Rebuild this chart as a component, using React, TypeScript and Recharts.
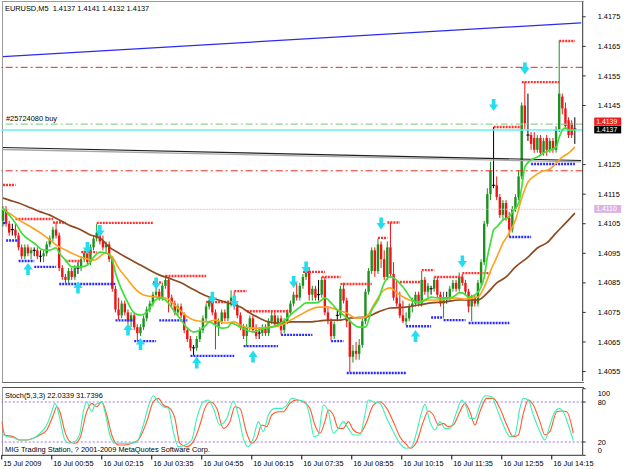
import React from 'react';
import { ComposedChart, Bar, Line, XAxis, YAxis, ReferenceLine, ReferenceDot } from 'recharts';

const FONT = '"Liberation Sans", Arial, sans-serif';
const FS = 7.4;

// ---------- candles (EURUSD M5) ----------
const opens = [
  1.4106,1.4110,1.4105,1.4103,1.4103,1.4101,1.4097,1.4094,1.4097,1.4095,
  1.4096,1.4096,1.4094,1.4094,1.4095,1.4098,1.4100,1.4103,1.4101,1.4090,
  1.4087,1.4086,1.4089,1.4087,1.4090,1.4090,1.4093,1.4095,1.4092,1.4097,
  1.4100,1.4102,1.4099,1.4097,1.4098,1.4093,1.4083,1.4076,1.4074,1.4078,
  1.4075,1.4072,1.4074,1.4070,1.4068,1.4070,1.4073,1.4076,1.4078,1.4081,
  1.4082,1.4080,1.4084,1.4086,1.4080,1.4078,1.4075,1.4077,1.4074,1.4069,
  1.4066,1.4063,1.4063,1.4066,1.4069,1.4073,1.4077,1.4079,1.4075,1.4070,
  1.4072,1.4075,1.4073,1.4078,1.4080,1.4077,1.4074,1.4070,1.4067,1.4070,
  1.4073,1.4069,1.4068,1.4068,1.4070,1.4068,1.4072,1.4074,1.4071,1.4073,
  1.4069,1.4072,1.4075,1.4078,1.4081,1.4080,1.4084,1.4087,1.4089,1.4081,
  1.4083,1.4081,1.4081,1.4086,1.4075,1.4072,1.4067,1.4074,1.4074,1.4083,
  1.4079,1.4072,1.4060,1.4062,1.4061,1.4064,1.4072,1.4082,1.4089,1.4096,
  1.4089,1.4098,1.4093,1.4087,1.4097,1.4088,1.4080,1.4078,1.4074,1.4072,
  1.4073,1.4077,1.4078,1.4081,1.4078,1.4086,1.4082,1.4083,1.4083,1.4086,
  1.4081,1.4078,1.4080,1.4080,1.4083,1.4085,1.4083,1.4087,1.4085,1.4082,
  1.4077,1.4080,1.4078,1.4085,1.4092,1.4105,1.4115,1.4118,1.4118,1.4114,
  1.4108,1.4112,1.4107,1.4103,1.4110,1.4114,1.4121,1.4145,1.4135,1.4135,
  1.4134,1.4130,1.4134,1.4129,1.4134,1.4130,1.4133,1.4130,1.4137,1.4148,
  1.4144,1.4140,1.4139,1.4137,
];
const highs = [
  1.4111,1.4111,1.4106,1.4105,1.4105,1.4102,1.4098,1.4098,1.4098,1.4097,
  1.4097,1.4097,1.4096,1.4096,1.4099,1.4101,1.4104,1.41055,1.4102,1.4091,
  1.4088,1.4090,1.4090,1.4091,1.4092,1.4094,1.4096,1.4096,1.4098,1.4101,
  1.4105,1.4103,1.4101,1.4099,1.4099,1.4094,1.4084,1.4080,1.4079,1.4079,
  1.4076,1.4075,1.4075,1.4071,1.4071,1.4074,1.4077,1.4079,1.4082,1.4085,
  1.4083,1.4085,1.40875,1.4087,1.4081,1.4079,1.4078,1.4078,1.4075,1.4070,
  1.4067,1.4064,1.4067,1.4070,1.4074,1.4078,1.4080,1.4080,1.4076,1.4073,
  1.4076,1.4076,1.4079,1.40825,1.4082,1.4078,1.4075,1.4071,1.4071,1.4074,
  1.4074,1.4071,1.4070,1.4071,1.4071,1.4073,1.40755,1.4075,1.4074,1.4074,
  1.4073,1.4076,1.4079,1.4082,1.4085,1.4085,1.4088,1.4090,1.4090,1.4084,
  1.4084,1.4086,1.4087,1.4087,1.4077,1.4073,1.4072,1.4076,1.4084,1.4085,
  1.4080,1.4073,1.4064,1.4065,1.4066,1.4073,1.4083,1.4090,1.4097,1.4097,
  1.4100,1.4099,1.4096,1.4099,1.41055,1.4092,1.4086,1.4082,1.4079,1.4075,
  1.4078,1.4080,1.4082,1.4082,1.4089,1.4087,1.4085,1.4084,1.4087,1.4087,
  1.4082,1.4082,1.4082,1.4084,1.4086,1.4086,1.40885,1.4088,1.4086,1.4083,
  1.4081,1.4081,1.4086,1.4093,1.4106,1.4117,1.4126,1.41377,1.4121,1.4115,
  1.4113,1.4113,1.4109,1.4111,1.4115,1.4123,1.4146,1.4153,1.4149,1.4136,
  1.4136,1.4135,1.4135,1.4134,1.4135,1.4134,1.4134,1.4138,1.4167,1.4149,
  1.4146,1.4141,1.4140,1.4141,
];
const lows = [
  1.4104,1.4104,1.4101,1.4101,1.4100,1.4096,1.4093,1.4093,1.4094,1.4093,
  1.4094,1.4093,1.4092,1.4092,1.4094,1.4097,1.4099,1.4100,1.4089,1.4086,
  1.4085,1.4085,1.4086,1.4086,1.4088,1.4089,1.4092,1.4091,1.4091,1.4096,
  1.4099,1.4098,1.4096,1.4095,1.4092,1.4082,1.4075,1.40725,1.4073,1.4074,
  1.4071,1.4070,1.4069,1.40655,1.4067,1.4069,1.4072,1.4075,1.4077,1.4080,
  1.4079,1.4079,1.4083,1.4075,1.4077,1.4074,1.4074,1.4073,1.4068,1.4065,
  1.4062,1.40605,1.4062,1.4065,1.4068,1.4072,1.4076,1.4074,1.40625,1.4067,
  1.4071,1.4072,1.4072,1.4077,1.4076,1.4073,1.4069,1.4066,1.40635,1.4069,
  1.4068,1.4066,1.4066,1.4067,1.4067,1.4067,1.4071,1.4070,1.4070,1.40675,
  1.4068,1.4071,1.4074,1.4077,1.4079,1.4079,1.4083,1.4086,1.4079,1.4079,
  1.4079,1.4079,1.4080,1.4074,1.4071,1.40655,1.4066,1.4072,1.4073,1.4078,
  1.4070,1.40548,1.4058,1.4059,1.4059,1.4063,1.4071,1.4081,1.4088,1.4087,
  1.4088,1.4090,1.4086,1.4086,1.4087,1.4079,1.4077,1.4073,1.40714,1.40705,
  1.4072,1.4075,1.4077,1.4077,1.4077,1.4081,1.4080,1.4081,1.4082,1.4080,
  1.4077,1.40735,1.4078,1.4079,1.4082,1.4082,1.4082,1.4084,1.4081,1.4075,
  1.4072,1.4077,1.4077,1.4084,1.4091,1.4104,1.4113,1.4117,1.4113,1.4107,
  1.4106,1.4106,1.41005,1.4102,1.4109,1.4113,1.4120,1.4137,1.4133,1.4130,
  1.4129,1.4129,1.4128,1.4128,1.4128,1.4129,1.4129,1.4129,1.4136,1.4142,
  1.4137,1.4134,1.4134,1.4132,
];
const closes = [
  1.4110,1.4105,1.4102,1.4103,1.4101,1.4097,1.4094,1.4097,1.4095,1.4096,
  1.4096,1.4094,1.4094,1.4095,1.4098,1.4100,1.4103,1.4101,1.4090,1.4087,
  1.4086,1.4089,1.4087,1.4090,1.4090,1.4093,1.4095,1.4092,1.4097,1.4100,
  1.4102,1.4099,1.4097,1.4098,1.4093,1.4083,1.4076,1.4074,1.4078,1.4075,
  1.4072,1.4074,1.4070,1.4068,1.4070,1.4073,1.4076,1.4078,1.4081,1.4082,
  1.4080,1.4084,1.4086,1.4080,1.4078,1.4075,1.4077,1.4074,1.4069,1.4066,
  1.4063,1.4063,1.4066,1.4069,1.4073,1.4077,1.4079,1.4075,1.4071,1.4072,
  1.4075,1.4073,1.4078,1.4080,1.4077,1.4074,1.4070,1.4067,1.4070,1.4073,
  1.4069,1.4067,1.4068,1.4070,1.4068,1.4072,1.4074,1.4071,1.4073,1.4069,
  1.4072,1.4075,1.4078,1.4081,1.4080,1.4084,1.4087,1.4089,1.4081,1.4083,
  1.4080,1.4081,1.4086,1.4075,1.4072,1.4067,1.4071,1.4074,1.4083,1.4079,
  1.4072,1.4060,1.4062,1.4061,1.4064,1.4072,1.4082,1.4089,1.4096,1.4089,
  1.4098,1.4093,1.4087,1.4097,1.4088,1.4080,1.4078,1.4074,1.4072,1.4073,
  1.4077,1.4078,1.4081,1.4078,1.4086,1.4082,1.4084,1.4083,1.4086,1.4081,
  1.4078,1.4080,1.4080,1.4083,1.4085,1.4083,1.4087,1.4085,1.4082,1.4077,
  1.4080,1.4078,1.4085,1.4092,1.4105,1.4115,1.4123,1.4118,1.4114,1.4108,
  1.4112,1.4107,1.4103,1.4110,1.4114,1.4121,1.4145,1.4139,1.4135,1.4132,
  1.4130,1.4134,1.4129,1.4133,1.4130,1.4133,1.4130,1.4137,1.4149,1.4144,
  1.4138,1.4135,1.4135,1.4137,
];
const SLOTS = 186; // bar slots across the plot (last two empty)

// ---------- moving averages [bar, price] ----------
const maFast = [
  [0,1.41103],[2,1.41079],[4,1.41052],[6,1.41018],[10,1.40984],[13,1.40961],[15,1.40961],[17,1.40968],
  [18,1.40951],[20,1.40927],[22,1.40904],[25,1.40904],[27,1.4091],[29,1.40937],[31,1.40954],[33,1.40951],
  [35,1.40927],[36,1.40883],[38,1.40826],[40,1.40782],[42,1.40748],[44,1.40741],[46,1.40751],[48,1.40782],
  [50,1.40799],[52,1.40792],[55,1.40751],[57,1.40724],[59,1.40697],[61,1.40684],[63,1.4069],[65,1.40707],
  [66,1.40718],[68,1.40707],[70,1.40697],[72,1.407],[73,1.40714],[76,1.407],[78,1.4069],[80,1.40684],
  [82,1.4069],[84,1.40697],[86,1.407],[89,1.40714],[91,1.40731],[93,1.40751],[95,1.40768],[97,1.40782],
  [99,1.40782],[101,1.40785],[103,1.40799],[105,1.40782],[107,1.40758],[109,1.40741],[110,1.40731],
  [114,1.407],[116,1.407],[118,1.40758],[120,1.40792],[122,1.4085],[124,1.4087],[128,1.40836],[131,1.40792],
  [133,1.40782],[135,1.40792],[137,1.40802],[139,1.40799],[141,1.40799],[144,1.40802],[146,1.40816],
  [147,1.40816],[149,1.40802],[151,1.40809],[153,1.40836],[154,1.4087],[155,1.40937],[156,1.40985],
  [157,1.41029],[158,1.41039],[160,1.41063],[162,1.41073],[163,1.4109],[165,1.4112],[166,1.41174],
  [167,1.41242],[169,1.41266],[171,1.41276],[173,1.41289],[175,1.41299],[177,1.41309],[178,1.41343],
  [179,1.41367],[180,1.41374],[181,1.41367],[183,1.41367],
];
const maMid = [
  [0,1.41096],[2,1.41086],[5,1.41063],[9,1.41039],[12,1.41019],[15,1.40995],[17,1.40978],[20,1.40961],
  [25,1.40937],[29,1.40927],[33,1.40951],[35,1.40937],[37,1.409],[40,1.4086],[42,1.40833],[45,1.40809],
  [49,1.40802],[52,1.40799],[55,1.40775],[58,1.40744],[61,1.40724],[65,1.40718],[68,1.40724],[71,1.40714],
  [74,1.40718],[76,1.40707],[79,1.40697],[82,1.40697],[85,1.407],[89,1.40707],[92,1.40724],[95,1.40741],
  [98,1.40758],[101,1.40768],[104,1.40768],[107,1.40758],[110,1.40748],[113,1.40731],[116,1.40734],
  [119,1.40782],[122,1.40826],[124,1.40833],[126,1.40816],[130,1.40792],[133,1.40785],[136,1.40792],
  [140,1.40792],[145,1.40799],[148,1.40795],[152,1.40802],[154,1.40836],[156,1.4089],[158,1.40937],
  [160,1.40985],[162,1.41019],[164,1.41063],[166,1.41137],[168,1.41191],[170,1.41211],[172,1.41225],
  [175,1.41235],[177,1.41255],[179,1.41276],[181,1.41289],[183,1.41309],
];
const maSlow = [
  [0,1.41137],[2,1.4113],[5,1.4112],[9,1.41103],[12,1.4109],[15,1.41079],[18,1.41063],[21,1.41046],
  [25,1.41029],[28,1.41012],[31,1.41002],[34,1.40971],[37,1.40951],[41,1.40927],[44,1.4091],[47,1.40893],
  [50,1.40877],[53,1.40866],[57,1.4085],[60,1.40833],[63,1.40816],[66,1.40802],[69,1.40792],[72,1.40782],
  [76,1.40768],[79,1.40748],[82,1.40731],[85,1.40718],[89,1.40714],[92,1.40718],[95,1.40718],[98,1.40718],
  [101,1.40721],[104,1.40724],[108,1.40724],[111,1.40731],[116,1.40734],[120,1.40751],[124,1.40765],
  [129,1.40768],[133,1.40775],[137,1.40782],[141,1.40785],[146,1.40792],[148,1.40792],[152,1.40792],
  [155,1.40816],[158,1.4085],[161,1.4087],[164,1.40904],[168,1.40937],[171,1.40968],[174,1.40985],
  [177,1.41019],[180,1.41052],[183,1.41086],
];

// ---------- trend lines [bar, price] ----------
const blueTrend = [[0,1.416154],[185,1.417297]];
const darkTrend = [[0,1.41308],[185,1.41264]];
const greyTrend = [[0,1.41301],[185,1.41259]];

// ---------- horizontal levels ----------
const redLevels = [1.41579, 1.41229];
const tpLevel = 1.41387;
const orderLevel = 1.41367;
const pinkLevel = 1.41099;

// ---------- fractal resistance / support segments [fromBar, toBar, price] ----------
const resistance = [
  [0,4,1.41181],[4,16,1.41066],[16,20,1.41054],[20,25,1.40924],[25,30,1.40954],[30,48,1.41053],
  [48,51,1.40851],[52,65,1.40873],[65,74,1.40785],[74,78,1.40822],[78,92,1.40754],[96,103,1.40887],
  [102,108,1.4087],[108,118,1.40846],[120,123,1.41002],[123,127,1.41054],[127,134,1.40853],
  [134,138,1.40893],[138,147,1.4087],[147,156,1.40883],[157,166,1.41377],[166,178,1.41529],[178,183,1.41668],
];
const support = [
  [0,1,1.41052],[1,5,1.40993],[5,10,1.40924],[10,17,1.40904],[18,36,1.40846],[36,42,1.40723],
  [42,49,1.40653],[50,59,1.40723],[60,74,1.40603],[77,88,1.40636],[89,99,1.40674],[105,109,1.40653],
  [110,129,1.40545],[129,137,1.40703],[137,141,1.40733],[141,148,1.40724],[149,162,1.40714],
  [162,169,1.41005],[169,183,1.41252],
];

// ---------- signal arrows [bar, price] ----------
const downArrows = [
  [27,1.40968],[31,1.41025],[49,1.40848],[67,1.408],[74,1.40787],[93,1.40853],[97,1.40902],
  [121,1.41051],[147,1.40922],[157,1.41452],[167,1.41575],
];
const upArrows = [
  [8,1.40897],[24,1.40834],[40,1.40692],[44,1.40643],[62,1.40581],[80,1.40601],[132,1.4067],
];

// ---------- price axis ----------
// (1.4135 sits under the two price tags in the reference, so it is not drawn)
const priceTicks = [1.4055,1.4065,1.4075,1.4085,1.4095,1.4105,1.4115,1.4125,1.4145,1.4155,1.4165,1.4175];
const priceDomain = [1.40518, 1.418];
const priceTags = [
  { value: 1.4139, label: '1.4139', bg: '#f02020', fg: '#ffffff', dy: -1.8 },
  { value: 1.4137, label: '1.4137', bg: '#000000', fg: '#ffffff', dy: 0.4 },
  { value: 1.411, label: '1.4110', bg: '#dcb2e4', fg: '#ffffff', dy: 0 },
];

// ---------- stochastic (5,3,3) [bar, value] ----------
const stochMain = [
  [-0.4,33],[1.2,28],[3.3,26.5],[5.4,23],[7.6,23],[9.7,25.5],[11.8,33],[14,45.5],[15.6,65.5],[16.6,78],
  [17.7,65.5],[18.8,40.5],[19.8,23],[21.4,18],[23,20.5],[24.6,33],[25.7,65.5],[26.8,80.5],[28.4,65.5],
  [29.4,75.5],[30.5,78],[31.6,80.5],[32.6,65.5],[34.2,30.5],[35.8,18],[38.5,18],[40.6,18],[42.8,20.5],
  [44.9,45.5],[46.5,73],[48.1,89.5],[49.7,80.5],[51.3,73],[52.9,70.5],[54.5,35.5],[56.1,13],[58.2,15.5],
  [60.4,23],[62,55.5],[64.1,80.5],[65.7,83],[67.3,70.5],[69.4,45.5],[71.6,55.5],[73.7,81.5],[75.3,60.5],
  [76.9,25.5],[78.5,13],[80.1,25.5],[81.7,50.5],[83.3,35.5],[84.9,60.5],[87,70.5],[89.2,70.5],[90.8,75.5],
  [92.4,85.5],[94.5,83],[96.6,80.5],[98.2,58],[99.5,28],[100.9,30.5],[102.5,75.5],[104.1,65.5],[105.7,33],
  [107.3,40.5],[108.9,50.5],[110.5,40.5],[112.1,30.5],[114.2,30.5],[115.8,60.5],[116.9,83],[118.5,80.5],
  [120.6,78],[122.8,55.5],[124.9,35.5],[127,18],[129.2,10.5],[130.8,13],[132.4,35.5],[134,65.5],[135,76.5],
  [136.6,50.5],[138.2,38],[139.8,50.5],[141.4,40.5],[143,40.5],[145.2,65.5],[146.8,83],[148.4,70.5],
  [149.4,55.5],[151,55.5],[152.6,75.5],[154.2,89.5],[156.4,88],[158,70.5],[160.1,45.5],[162.2,28],
  [163.8,30.5],[165.4,70.5],[166.5,85.5],[168.1,83],[169.7,60.5],[171.8,35.5],[173.4,23],[175,45.5],
  [176.6,65.5],[178,70.5],[179.3,65.5],[180.9,45.5],[182.5,22],
];
const stochSignal = [
  [-0.4,50.5],[0.6,30.5],[3.3,28],[5.4,23],[7.6,23],[9.7,25.5],[11.8,30.5],[14,38],[16.1,60.5],[17.2,73],
  [18.2,65.5],[19.8,35.5],[21.4,20.5],[23,18],[24.6,25.5],[26.8,65.5],[28.4,78],[30,73],[31.6,80.5],
  [33.2,60.5],[34.8,30.5],[37,15.5],[39,15.5],[41.2,18],[43.3,23],[46,50.5],[48.1,80.5],[49.7,85.5],
  [51.3,75.5],[53.4,70.5],[55,55.5],[56.6,18],[58.8,13],[60.9,20.5],[63,45.5],[64.6,70.5],[66.2,80.5],
  [68.4,70.5],[70.5,40.5],[72.6,50.5],[74.2,73],[75.8,70.5],[78,33],[79.6,18],[81.2,25.5],[82.8,45.5],
  [84.4,43],[86,60.5],[88.1,65.5],[89.7,65.5],[91.8,78],[94,83],[96.1,80.5],[98.2,70.5],[99.8,45.5],
  [101.4,33],[103,50.5],[104.1,68],[105.7,60.5],[107.3,40.5],[108.9,40.5],[110.5,50.5],[112.1,38],
  [114.2,33],[116.4,50.5],[118.5,75.5],[120.6,80.5],[122.8,70.5],[124.9,50.5],[127,28],[129.2,15.5],
  [130.2,10.5],[132.4,20.5],[134.5,50.5],[136.1,66.5],[137.7,60.5],[139.3,45.5],[140.9,48],[142.5,43],
  [144.1,45.5],[146.2,65.5],[147.8,78],[149.4,65.5],[151,45.5],[152.6,65.5],[154.8,85.5],[156.9,85.5],
  [159,70.5],[161.2,45.5],[163.3,28],[164.9,30.5],[166.5,63],[168.1,83],[169.7,75.5],[171.8,50.5],
  [173.4,30.5],[175,35.5],[177.2,65.5],[178.8,66.5],[180.4,65.5],[182.5,33],
];
const stochLevels = [80, 20];
const stochTicks = [0, 20, 80, 100];

// ---------- time axis ----------
const timeTickBars = [0,16,32,48,64,80,96,112,128,144,160,176];
const timeTickLabels = [
  '15 Jul 2009','16 Jul 00:55','16 Jul 02:15','16 Jul 03:35','16 Jul 04:55','16 Jul 06:15',
  '16 Jul 07:35','16 Jul 08:55','16 Jul 10:15','16 Jul 11:35','16 Jul 12:55','16 Jul 14:15',
];

// ---------- build table for the main chart ----------
function buildRows() {
  const rows: any[] = [];
  for (let i = 0; i < SLOTS; i++) {
    const r: any = { i };
    if (i < opens.length) {
      r.o = opens[i]; r.h = highs[i]; r.l = lows[i]; r.c = closes[i];
    }
    rows.push(r);
  }
  const put = (arr: number[][], key: string) => arr.forEach(([b, v]) => { rows[b][key] = v; });
  put(maFast, 'fast'); put(maMid, 'mid'); put(maSlow, 'slow');
  put(blueTrend, 'blueTL'); put(darkTrend, 'darkTL'); put(greyTrend, 'greyTL');
  return rows;
}

const Candle = (props: any) => {
  const { x, y, width, height, payload } = props;
  if (!payload || payload.h == null || x == null) return null;
  const { o, h, l, c } = payload;
  const top = Math.min(y, y + height);
  const bot = Math.max(y, y + height);
  const k = (bot - top) / (h - l);
  const cx = x + width / 2;
  const yO = top + (h - o) * k;
  const yC = top + (h - c) * k;
  const diff = c - o;
  const up = diff > 0.00002;
  const down = diff < -0.00002;
  const col = up ? '#1f8f1f' : down ? '#f01414' : '#000000';
  const bt = Math.min(yO, yC);
  const bb = Math.max(yO, yC);
  return (
    <g>
      <line x1={cx} x2={cx} y1={top} y2={bot} stroke={col} strokeWidth={1} />
      {up || down ? (
        <rect x={cx - 1.2} y={bt} width={2.4} height={Math.max(bb - bt, 1)} fill={col} />
      ) : (
        <line x1={cx - 1.6} x2={cx + 1.6} y1={yO} y2={yO} stroke={col} strokeWidth={1} />
      )}
    </g>
  );
};

const ArrowShape = (dir: 'up' | 'down') => (props: any) => {
  const { cx, cy } = props;
  if (cx == null || cy == null) return null;
  const s = dir === 'down' ? 1 : -1;
  const d = `M${cx - 1.8},${cy - 6 * s} L${cx + 1.8},${cy - 6 * s} L${cx + 1.8},${cy - 0.5 * s} L${cx + 4.6},${cy - 0.5 * s} L${cx},${cy + 6 * s} L${cx - 4.6},${cy - 0.5 * s} L${cx - 1.8},${cy - 0.5 * s} Z`;
  return <path d={d} fill="#22dcef" stroke="none" />;
};

const PriceTag = (props: any) => {
  const { viewBox, bg, fg, text, dy } = props;
  if (!viewBox) return null;
  const x0 = viewBox.x + viewBox.width + 11.5;
  const y0 = viewBox.y + (dy || 0);
  return (
    <g>
      <rect x={x0} y={y0 - 3.9} width={27} height={7.8} fill={bg} />
      <text x={x0 + 2} y={y0 + 2.4} fontSize={6.9} fontFamily={FONT} fill={fg}>{text}</text>
    </g>
  );
};

const TimeTick = (props: any) => {
  const { x, payload } = props;
  const idx = timeTickBars.findIndex((b) => Math.abs(b - 0.4 - payload.value) < 0.01);
  return (
    <g>
      <line x1={x} x2={x} y1={75.3} y2={79.5} stroke="#000" strokeWidth={1} />
      <text x={x + 1.5} y={85.6} fontSize={FS} fontFamily={FONT} fill="#000">{idx >= 0 ? timeTickLabels[idx] : ''}</text>
    </g>
  );
};

const StochTick = (props: any) => {
  const { x, y, payload } = props;
  const v = payload.value;
  const dy = v === 100 ? 5 : v === 0 ? -4.5 : 0;
  return (
    <text x={x} y={y + dy + 2.6} fontSize={FS} fontFamily={FONT} fill="#000">{v}</text>
  );
};

const PriceTick = (props: any) => {
  const { x, y, payload } = props;
  return (
    <text x={x} y={y + 2.6} fontSize={FS} fontFamily={FONT} fill="#000">{payload.value.toFixed(4)}</text>
  );
};

export default function App() {
  const rows = buildRows();
  const stochMainData = stochMain.map(([x, v]) => ({ x, v }));
  const stochSignalData = stochSignal.map(([x, v]) => ({ x, v }));
  const dotted = { strokeWidth: 2.4, strokeDasharray: '2 1' };
  const dashDot = '7 3 2 3';
  const txt: React.CSSProperties = { position: 'absolute', fontSize: FS, fontFamily: FONT, color: '#000', whiteSpace: 'nowrap', lineHeight: '9px' };

  return (
    <div style={{ position: 'absolute', left: 0, top: 0, width: 625, height: 469, background: '#fff', overflow: 'hidden' }}>
      {/* window frames */}
      <div style={{ position: 'absolute', left: 2, top: 1, width: 581, height: 380, borderLeft: '1px solid #9a9a9a', borderTop: '1px solid #9a9a9a', borderBottom: '1px solid #6a6a6a' }} />
      <div style={{ position: 'absolute', left: 2, top: 387, width: 581, height: 68, borderLeft: '1px solid #9a9a9a', borderTop: '1px solid #505050' }} />

      <div style={{ position: 'absolute', left: 0, top: 0 }}>
        <ComposedChart width={625} height={383} data={rows} margin={{ top: 2, right: 0, bottom: 2, left: 1.44 }}>
          <XAxis dataKey="i" type="category" hide />
          <YAxis
            yAxisId={0}
            orientation="right"
            width={42.3}
            domain={priceDomain}
            allowDataOverflow
            ticks={priceTicks}
            tickSize={3}
            tickMargin={12}
            tick={<PriceTick />}
            axisLine={{ stroke: '#303030' }}
            tickLine={{ stroke: '#303030' }}
            interval={0}
          />
          {redLevels.map((p, k) => (
            <ReferenceLine key={'rl' + k} y={p} stroke="#e8281e" strokeWidth={1} strokeDasharray={dashDot} />
          ))}
          <ReferenceLine y={pinkLevel} stroke="#f3bccb" strokeWidth={1.2} strokeDasharray="2 1" />
          <ReferenceLine y={tpLevel} stroke="#8fd48f" strokeWidth={1.2} strokeDasharray={dashDot} />
          <ReferenceLine y={orderLevel} stroke="#5ef2f2" strokeWidth={1.6} />

          <Line dataKey="blueTL" stroke="#2b2bf0" strokeWidth={1.3} dot={false} connectNulls isAnimationActive={false} type="linear" />
          <Line dataKey="greyTL" stroke="#a8a8a8" strokeWidth={1.3} dot={false} connectNulls isAnimationActive={false} type="linear" />
          <Line dataKey="darkTL" stroke="#202020" strokeWidth={1.1} dot={false} connectNulls isAnimationActive={false} type="linear" />

          {resistance.map(([a, b, p], k) => (
            <ReferenceLine key={'res' + k} segment={[{ x: a, y: p }, { x: b, y: p }]} stroke="#ff3030" {...dotted} ifOverflow="visible" />
          ))}
          {support.map(([a, b, p], k) => (
            <ReferenceLine key={'sup' + k} segment={[{ x: a, y: p }, { x: b, y: p }]} stroke="#2a2aff" {...dotted} ifOverflow="visible" />
          ))}

          <Line dataKey="slow" stroke="#8e4b1f" strokeWidth={1.7} dot={false} connectNulls isAnimationActive={false} type="monotone" />
          <Bar dataKey={(d: any) => (d.h == null ? null : [d.l, d.h])} barSize={3} shape={<Candle />} isAnimationActive={false} />
          <Line dataKey="mid" stroke="#ffa11a" strokeWidth={1.6} dot={false} connectNulls isAnimationActive={false} type="monotone" />
          <Line dataKey="fast" stroke="#3ee03a" strokeWidth={1.7} dot={false} connectNulls isAnimationActive={false} type="monotone" />

          {downArrows.map(([b, p], k) => (
            <ReferenceDot key={'da' + k} x={b} y={p} r={0} shape={ArrowShape('down')} ifOverflow="visible" />
          ))}
          {upArrows.map(([b, p], k) => (
            <ReferenceDot key={'ua' + k} x={b} y={p} r={0} shape={ArrowShape('up')} ifOverflow="visible" />
          ))}

          {priceTags.map((t) => (
            <ReferenceLine key={'tag' + t.label} y={t.value} stroke="none" label={<PriceTag bg={t.bg} fg={t.fg} text={t.label} dy={t.dy} />} />
          ))}
        </ComposedChart>
      </div>

      <div style={{ position: 'absolute', left: 0, top: 380 }}>
        <ComposedChart width={625} height={89} margin={{ top: 8.7, right: 0, bottom: 0, left: 1.44 }}>
          <XAxis
            dataKey="x"
            type="number"
            domain={[-0.5, SLOTS - 0.5]}
            allowDataOverflow
            ticks={timeTickBars.map((b) => b - 0.4)}
            interval={0}
            height={13.7}
            tickLine={false}
            axisLine={{ stroke: '#303030' }}
            tick={<TimeTick />}
          />
          <YAxis
            orientation="right"
            width={42.3}
            domain={[0, 100]}
            allowDataOverflow
            ticks={stochTicks}
            interval={0}
            tickSize={3}
            tickMargin={12}
            tick={<StochTick />}
            axisLine={{ stroke: '#303030' }}
            tickLine={{ stroke: '#303030' }}
          />
          {stochLevels.map((v) => (
            <ReferenceLine key={'sl' + v} y={v} stroke="#a36ee0" strokeWidth={1.2} strokeDasharray="2 2" />
          ))}
          <Line data={stochSignalData} dataKey="v" stroke="#ff5a2c" strokeWidth={1.1} dot={false} isAnimationActive={false} type="monotone" />
          <Line data={stochMainData} dataKey="v" stroke="#3cf0b4" strokeWidth={1.1} dot={false} isAnimationActive={false} type="monotone" />
        </ComposedChart>
      </div>

      <div style={{ ...txt, left: 5, top: 3.5 }}>EURUSD,M5&nbsp;&nbsp;1.4137 1.4141 1.4132 1.4137</div>
      <div style={{ ...txt, left: 6, top: 113.5 }}>#25724080 buy</div>
      <div style={{ ...txt, left: 5, top: 391 }}>Stoch(5,3,3) 22.0339 31.7396</div>
      <div style={{ ...txt, left: 5, top: 444.5 }}>MIG Trading Station, ? 2001-2009 MetaQuotes Software Corp.</div>
    </div>
  );
}
